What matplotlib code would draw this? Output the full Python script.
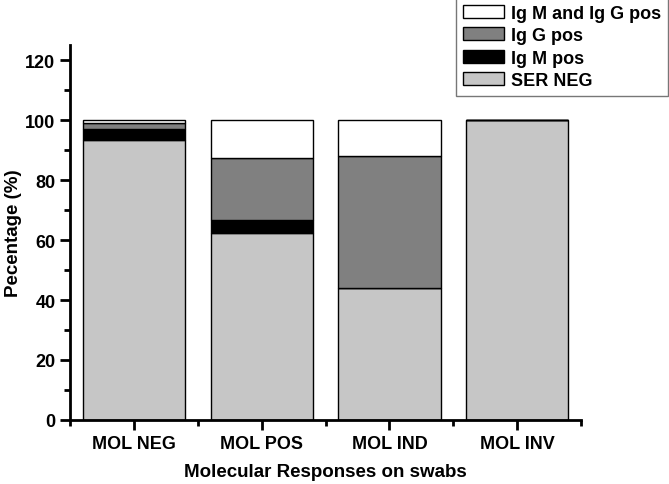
import matplotlib.pyplot as plt
import numpy as np

plt.rcParams["font.family"] = "Liberation Sans"
plt.rcParams["font.weight"] = "bold"

groups = ["MOL NEG", "MOL POS", "MOL IND", "MOL INV"]
ser_neg = [93.4, 62.5, 44.0, 100.0]
igm_pos = [3.7, 4.2, 0.0, 0.0]
igg_pos = [1.8, 20.8, 44.0, 0.0]
igm_igg_pos = [1.1, 12.5, 12.0, 0.0]

series = [
    ("SER NEG", ser_neg, "#c6c6c6"),
    ("Ig M pos", igm_pos, "#000000"),
    ("Ig G pos", igg_pos, "#808080"),
    ("Ig M and Ig G pos", igm_igg_pos, "#ffffff"),
]

fig = plt.figure(figsize=(6.69, 4.85), dpi=100)
ax = fig.add_axes([0.1046, 0.132, 0.764, 0.773])

x = np.arange(1, len(groups) + 1)
bottom = np.zeros(len(groups))
handles = []
for name, vals, col in series:
    vals = np.array(vals)
    b = ax.bar(x, vals, 0.8, bottom=bottom, color=col, edgecolor="black",
               linewidth=1.0, label=name)
    handles.append(b)
    bottom += vals

ax.set_xlim(0.5, 4.5)
ax.set_ylim(0, 125)
ax.set_xticks(x)
ax.set_xticklabels(groups, fontsize=13, fontweight="bold")
ax.set_xticks([0.5, 1.5, 2.5, 3.5, 4.5], minor=True)
ax.set_yticks(range(0, 121, 20))
ax.set_yticks(range(10, 121, 20), minor=True)
ax.tick_params(axis="y", labelsize=13, width=2, length=7)
ax.tick_params(axis="x", width=2, length=7, pad=4)
ax.tick_params(which="minor", width=2, length=4)
for lab in ax.get_yticklabels():
    lab.set_fontweight("bold")
for side in ["top", "right"]:
    ax.spines[side].set_visible(False)
for side in ["left", "bottom"]:
    ax.spines[side].set_linewidth(2)

ax.set_xlabel("Molecular Responses on swabs", fontsize=13.5, fontweight="bold", labelpad=8)
ax.set_ylabel("Pecentage (%)", fontsize=13.5, fontweight="bold", labelpad=2)

leg = fig.legend(handles[::-1], [s[0] for s in series][::-1],
                 loc="upper right", bbox_to_anchor=(0.9985, 1.003),
                 fontsize=13, frameon=True, fancybox=False,
                 handlelength=2.3, handleheight=0.75, handletextpad=0.35,
                 labelspacing=0.3, borderpad=0.4, borderaxespad=0)
leg.get_frame().set_edgecolor("#555555")
leg.get_frame().set_linewidth(1.0)
for t in leg.get_texts():
    t.set_fontweight("bold")

fig.savefig("out.png", dpi=100)
